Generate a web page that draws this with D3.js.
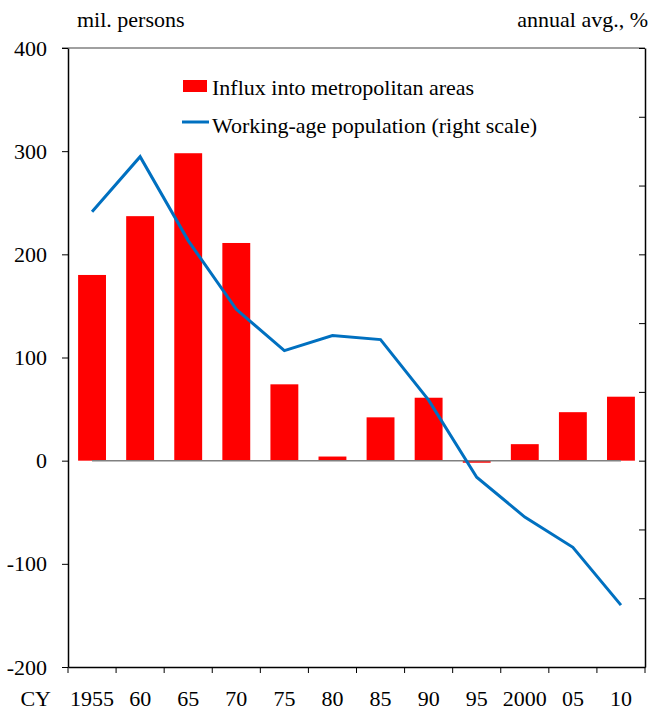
<!DOCTYPE html>
<html>
<head>
<meta charset="utf-8">
<script src="https://cdn.jsdelivr.net/npm/d3@7"></script>
<style>
  body { margin: 0; background: #fff; }
  text { font-family: "Liberation Serif", "Times New Roman", serif; fill: #000; }
</style>
</head>
<body>
<div class="chart"></div>
<script>
var years = ['1955','60','65','70','75','80','85','90','95','2000','05','10'];
var influx = [180, 237, 298, 211, 74, 4, 42, 61, -2, 16, 47, 62];
var workAge = [1.81, 2.21, 1.6, 1.1, 0.8, 0.91, 0.88, 0.44, -0.12, -0.41, -0.63, -1.05];
var leftTicks = [400, 300, 200, 100, 0, -100, -200];
var rightTicks = [-1.5, -1, -0.5, 0, 0.5, 1, 1.5, 2, 2.5, 3];

var W = 651, H = 711;
var pLeft = 68, pRight = 645, pTop = 48, pBottom = 667;

var svg = d3.select(".chart").append("svg")
    .attr("width", W)
    .attr("height", H)

var x = d3.scaleBand().domain(years).range([pLeft, pRight]).paddingInner(0.42).paddingOuter(0.21)
var xb = d3.scaleBand().domain(years).range([pLeft, pRight])
var y = d3.scaleLinear().domain([-200, 400]).range([pBottom, pTop])
var y2 = d3.scaleLinear().domain([-1.5, 3]).range([pBottom, pTop])

// bars
svg.selectAll(".bar").data(influx).enter().append("rect")
    .attr("x", function(d, i) { return x(years[i]) })
    .attr("y", function(d) { return y(Math.max(0, d)) })
    .attr("width", x.bandwidth())
    .attr("height", function(d) { return Math.abs(y(d) - y(0)) })
    .attr("fill", "#ff0000")

// zero line
svg.append("line")
    .attr("x1", xb(years[0]) + xb.bandwidth() / 2)
    .attr("x2", xb(years[years.length - 1]) + xb.bandwidth() / 2)
    .attr("y1", y(0)).attr("y2", y(0))
    .attr("stroke", "#808080").attr("stroke-width", 1.5)

// line series
var line = d3.line()
    .x(function(d, i) { return xb(years[i]) + xb.bandwidth() / 2 })
    .y(function(d) { return y2(d) })
svg.append("path")
    .datum(workAge)
    .attr("d", line)
    .attr("fill", "none")
    .attr("stroke", "#0070c0")
    .attr("stroke-width", 3)

// frame
svg.append("line").attr("x1", pLeft - 6).attr("x2", pRight).attr("y1", pTop).attr("y2", pTop)
    .attr("stroke", "#808080").attr("stroke-width", 1.5)

// left axis
var yAxis = svg.append("g")
    .attr("transform", "translate(" + pLeft + ",0)")
    .call(d3.axisLeft(y).tickValues(leftTicks).tickSize(6).tickSizeOuter(0).tickPadding(15)
        .tickFormat(function(d) { return String(d) }))
yAxis.select(".domain").attr("stroke", "#000").attr("stroke-width", 1.5)
yAxis.selectAll(".tick line").attr("stroke", "#000")
yAxis.selectAll("text").style("font-size", "22px").attr("font-family", "Liberation Serif")

// right axis (no labels)
var y2Axis = svg.append("g")
    .attr("transform", "translate(" + pRight + ",0)")
    .call(d3.axisLeft(y2).tickValues(rightTicks).tickSize(6).tickSizeOuter(0).tickFormat(""))
y2Axis.select(".domain").attr("stroke", "#000").attr("stroke-width", 1.5)
y2Axis.selectAll(".tick line").attr("stroke", "#000")

// x axis
var xAxis = svg.append("g")
    .attr("transform", "translate(0," + pBottom + ")")
    .call(d3.axisBottom(xb).tickSize(0).tickPadding(23))
xAxis.select(".domain").attr("stroke", "#000").attr("stroke-width", 1.5)
xAxis.selectAll("text").style("font-size", "22px").attr("font-family", "Liberation Serif")
svg.append("g").selectAll("line")
    .data(years.concat(["end"])).enter().append("line")
    .attr("x1", function(d, i) { return i < years.length ? xb(d) : pRight })
    .attr("x2", function(d, i) { return i < years.length ? xb(d) : pRight })
    .attr("y1", pBottom).attr("y2", pBottom + 6)
    .attr("stroke", "#000")

svg.append('text').attr('x', 51).attr('y', 706).attr('text-anchor', 'end')
    .style("font-size", "22px").text("CY")

// axis titles
svg.append('text').attr('x', 77).attr('y', 27)
    .style("font-size", "22px").text("mil. persons")
svg.append('text').attr('x', 648).attr('y', 27).attr('text-anchor', 'end')
    .style("font-size", "22px").text("annual avg., %")

// legend
svg.append("rect").attr("x", 183).attr("y", 80).attr("width", 24).attr("height", 12).attr("fill", "#ff0000")
svg.append('text').attr('x', 212).attr('y', 95).style("font-size", "22px").text("Influx into metropolitan areas")
svg.append("line").attr("x1", 182).attr("x2", 209).attr("y1", 122).attr("y2", 122)
    .attr("stroke", "#0070c0").attr("stroke-width", 3)
svg.append('text').attr('x', 212).attr('y', 133).style("font-size", "22px").text("Working-age population (right scale)")
</script>
</body>
</html>
